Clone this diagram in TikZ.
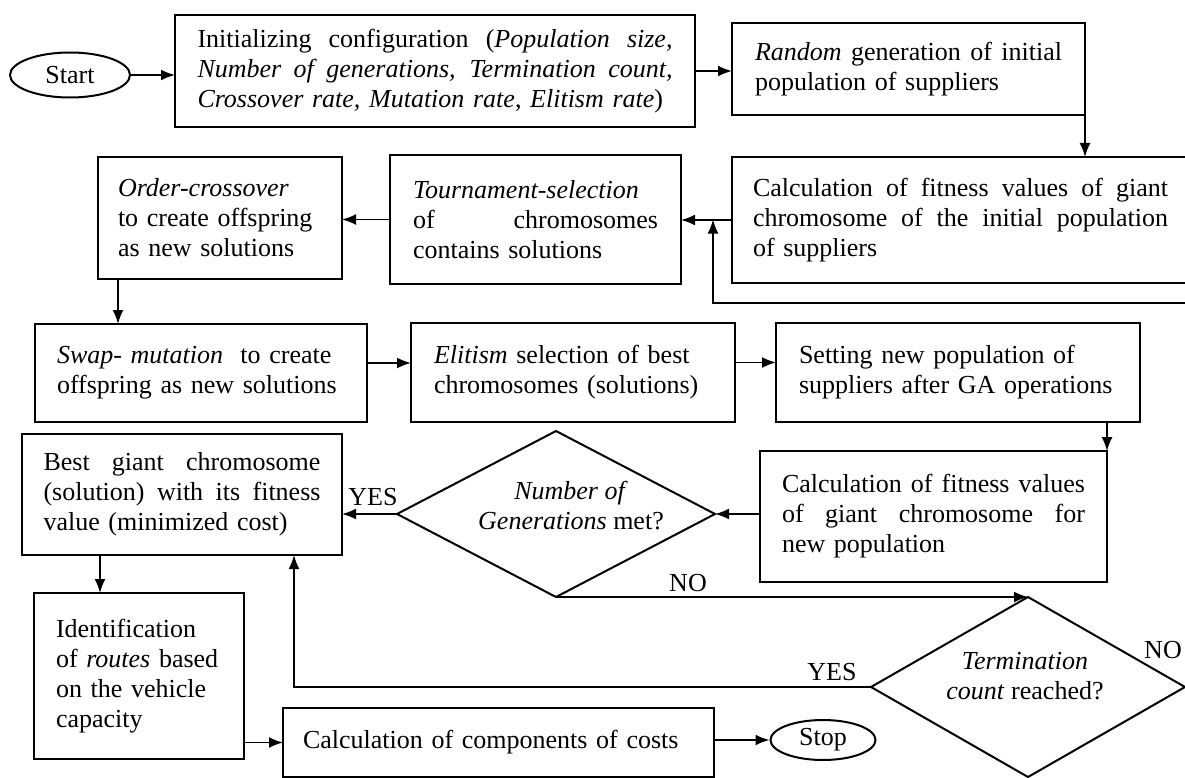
\documentclass[tikz,border=0pt]{standalone}
\usepackage{fontspec}
\setmainfont{Liberation Serif}
\usetikzlibrary{arrows.meta,shapes.geometric}
\newcommand\jline[1]{\makebox[\hsize][s]{\spaceskip=.25em plus 1fil\relax #1}}
\begin{document}
\begin{tikzpicture}[x=1pt,y=-1pt,
  txt/.style={font=\fontsize{26}{30}\selectfont},
  box/.style={txt, draw, line width=2pt, anchor=north west, inner sep=0pt, outer sep=0pt, align=left},
  arr/.style={line width=1.7pt, -{Latex[length=14pt,width=11pt]}},
  term/.style={txt, draw, ellipse, line width=2pt, inner sep=0pt},
  dia/.style={draw, diamond, line width=2pt, inner sep=0pt, outer sep=0pt}
]
\useasboundingbox (0,0) rectangle (1185,778);
\clip (0,0) rectangle (1185,778);

\node[term, minimum width=120pt, minimum height=45pt] (start) at (70,75) {Start};
\node[box, minimum width=520pt, minimum height=112pt, text width=475pt] (init) at (175,15)
  {\jline{Initializing configuration (\textit{Population size,}}\\
   \jline{\textit{Number of generations, Termination count,}}\\
   \textit{Crossover rate, Mutation rate}, \textit{Elitism rate})};
\node[box, minimum width=353pt, minimum height=92pt, text width=307pt] (random) at (732,23)
  {\jline{\textit{Random} generation of initial}\\ population of suppliers};
\node[box, minimum width=457pt, minimum height=126pt, text width=415pt] (calc1) at (732,157)
  {\jline{Calculation of fitness values of giant}\\
   \jline{chromosome of the initial population}\\ of suppliers};
\node[box, minimum width=291pt, minimum height=129pt, text width=245pt] (tourn) at (390,155)
  {\textit{Tournament-selection}\\ \jline{of chromosomes}\\ contains solutions};
\node[box, minimum width=244pt, minimum height=122pt, text width=204pt] (order) at (98,157)
  {\textit{Order-crossover}\\ to create offspring\\ as new solutions};
\node[box, minimum width=332pt, minimum height=98pt, text width=288pt] (swap) at (35,324)
  {\textit{Swap- mutation}\ \ to create\\ offspring as new solutions};
\node[box, minimum width=324pt, minimum height=99pt, text width=278pt] (elit) at (411,323)
  {\textit{Elitism} selection of best\\ chromosomes (solutions)};
\node[box, minimum width=364pt, minimum height=99pt, text width=318pt] (setpop) at (776,323)
  {Setting new population of\\ suppliers after GA operations};
\node[box, minimum width=347pt, minimum height=131pt, text width=303pt] (calc2) at (760,451)
  {\jline{Calculation of fitness values}\\ \jline{of giant chromosome for}\\ new population};
\node[box, minimum width=320pt, minimum height=121pt, text width=277pt] (best) at (22,434)
  {\jline{Best giant chromosome}\\ \jline{(solution) with its fitness}\\ value (minimized cost)};
\node[box, minimum width=210pt, minimum height=166pt, text width=166pt] (ident) at (34,593)
  {Identification\\ of \textit{routes} based\\ on the vehicle\\ capacity};
\node[box, minimum width=431pt, minimum height=69pt, text width=391pt] (cost) at (283,708)
  {Calculation of components of costs};
\node[term, minimum width=105pt, minimum height=40pt] (stop) at (823,740) {Stop};

\node[dia, minimum width=318pt, minimum height=166pt] (d1) at (556,514) {};
\node[txt, align=center] (d1t) at (571,506) {\textit{Number of}\\ \textit{Generations} met?};
\node[dia, minimum width=314pt, minimum height=180pt] (d2) at (1028,687) {};
\node[txt, align=center] (d2t) at (1025,676) {\textit{Termination}\\ \textit{count} reached?};

\node[txt] (yes1) at (373,497) {YES};
\node[txt] (no1) at (688,583) {NO};
\node[txt] (yes2) at (832,672) {YES};
\node[txt] (no2) at (1163,650) {NO};

\draw[arr] (start.east) -- (start.east -| init.west);
\draw[arr] (init.east) -- (init.east -| random.west);
\draw[arr] (random.south east) -- (random.south east |- calc1.north);
\draw[arr] (calc1.west) -- (calc1.west -| tourn.east);
\draw[arr] (tourn.west) -- (tourn.west -| order.east);
\coordinate (o1) at ([xshift=20pt]order.south west);
\draw[arr] (o1) -- (o1 |- swap.north);
\coordinate (s1) at ([yshift=10pt]swap.east);
\draw[arr] (s1) -- (s1 -| elit.west);
\coordinate (e1) at ([yshift=10pt]elit.east);
\draw[arr] (e1) -- (e1 -| setpop.west);
\draw[arr] (calc2.north east |- setpop.south) -- (calc2.north east);
\draw[arr] (calc2.west |- d1.east) -- (d1.east);
\draw[arr] (d1.west) -- (d1.west -| best.east);
\draw[arr] (d1.south) -- (d2.north);
\coordinate (b1) at ([xshift=-48pt]best.south east);
\draw[arr] (d2.west) -| (b1);
\coordinate (b2) at ([xshift=78pt]best.south west);
\draw[arr] (b2) -- (b2 |- ident.north);
\draw[arr] (ident.east |- cost.west) -- (cost.west);
\draw[arr] (cost.east |- stop.west) -- (stop.west);
\coordinate (fb) at (1190,303);
\coordinate (fbt) at ([xshift=32pt]tourn.east);
\draw[arr] (fb) -| (fbt);
\end{tikzpicture}
\end{document}
